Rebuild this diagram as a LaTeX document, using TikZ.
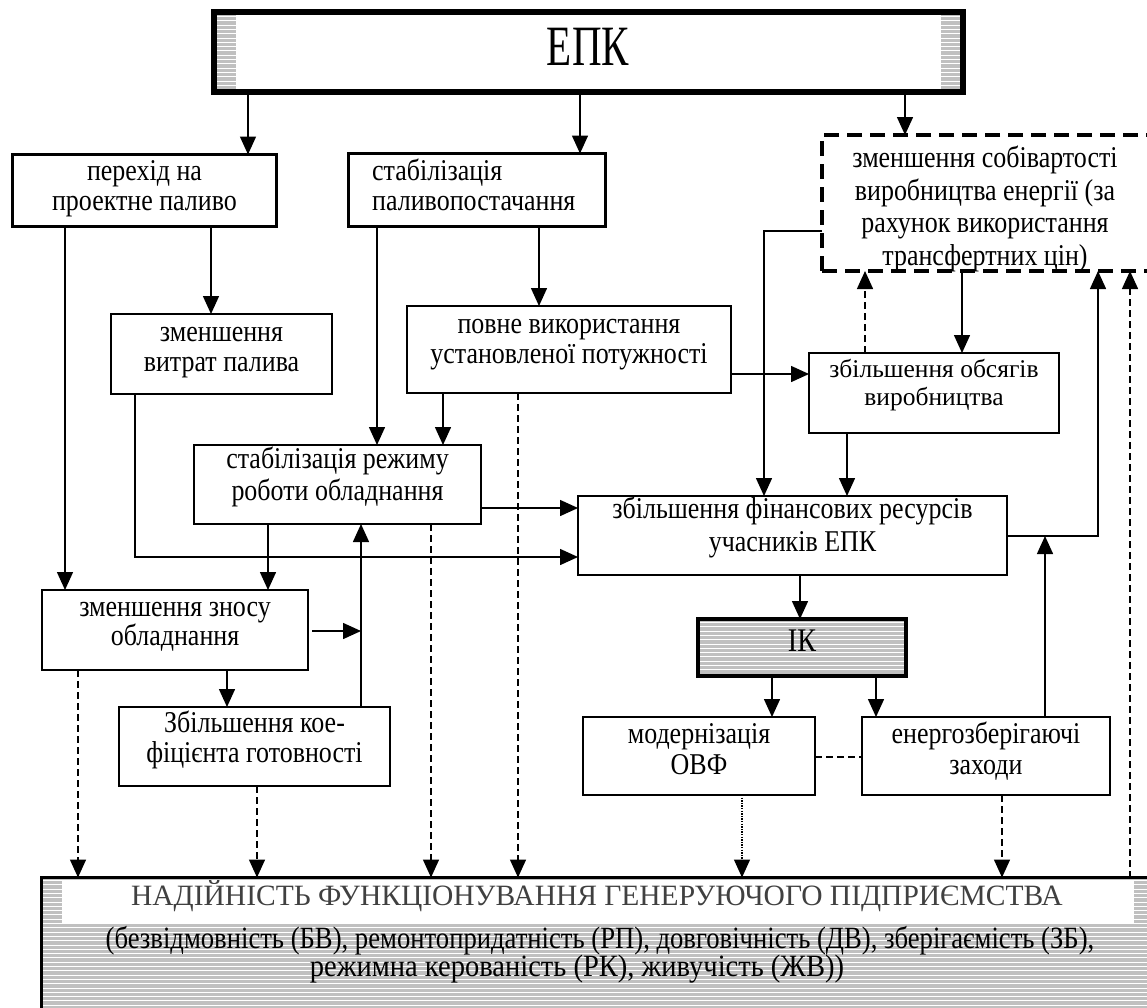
\documentclass[tikz,border=0pt]{standalone}
\usepackage{fontspec}
\setmainfont{Liberation Serif}[FakeStretch=0.86]
\newfontfamily\plainfont{Liberation Serif}
\usepackage{graphicx}
\usetikzlibrary{arrows.meta,calc}
\definecolor{hatchgray}{HTML}{C0C0C0}
\definecolor{titlegray}{HTML}{404040}
\newcommand\hatchbox[4]{%
  \begin{scope}
    \clip (#1,#2) rectangle (#3,#4);
    \fill[hatchgray] (#1,#2) rectangle (#3,#4);
    \foreach \i in {0,...,40}{\draw[white,line width=1pt] (#1,{#2+1.5+4.3*\i}) -- (#3,{#2+1.5+4.3*\i});}
  \end{scope}}
\newcommand\drbox[6][boxthin]{\node[#1, minimum width={#5-#3}, minimum height={#6-#4}] (#2) at ({(#3+#5)/2},{(#4+#6)/2}) {};}
\newcommand\fsz[2]{\fontsize{#1}{#2}\selectfont\lineskiplimit=-50pt\relax}
\tikzset{
  boxthin/.style={draw, line width=2pt, inner sep=0pt, outer sep=0pt},
  boxthick/.style={draw, line width=3pt, inner sep=0pt, outer sep=0pt},
  boxdash/.style={draw, line width=4pt, dash pattern=on 15pt off 8pt, inner sep=0pt, outer sep=0pt},
  boxik/.style={draw, line width=4pt, inner sep=0pt, outer sep=0pt},
  boxepk/.style={draw, line width=6pt, inner sep=0pt, outer sep=0pt},
  boxnad/.style={draw, line width=3.5pt, inner sep=0pt, outer sep=0pt},
  tx/.style={inner sep=0pt, align=center, font=\fsz{30.2}{30}},
  txs/.style={inner sep=0pt, font=\fsz{30.2}{30}},
  ln/.style={line width=1.5pt},
  arr/.style={-{Triangle[length=18pt,width=16pt]}},
  dsh/.style={line width=1.5pt, dash pattern=on 7pt off 4pt},
  dtt/.style={line width=1.3pt, dash pattern=on 1.3pt off 1.3pt},
}
\begin{document}
\begin{tikzpicture}[x=1pt,y=-1pt]
\useasboundingbox (0,0) rectangle (1147,1007);
\clip (0,0) rectangle (1147,1007);
\fill[white] (0,0) rectangle (1147,1007);

% hatched backgrounds
\hatchbox{217}{15}{236}{89}
\hatchbox{941}{15}{960}{89}
\hatchbox{700}{621}{904}{674}
\hatchbox{43}{879}{1150}{1010}
\fill[white] (62,880) rectangle (1134,923);

% boxes
\drbox[boxepk]{epk}{214}{12}{963}{92}
\drbox[boxthick]{perekhid}{12.5}{154.5}{276.5}{226.5}
\drbox[boxthick]{stabil}{348.5}{153.5}{605.5}{226.5}
\drbox[boxdash]{dashbox}{822}{135}{1165}{271}
\drbox{vytrat}{111}{314}{332}{394}
\drbox{povne}{407}{306}{731}{393}
\drbox{obsyagiv}{809}{353}{1059}{433}
\drbox{rezhym}{194}{445}{481}{524}
\drbox{finans}{578}{496}{1007}{575}
\drbox{znosu}{42}{590}{308}{670}
\drbox{koef}{119}{707}{390}{786}
\drbox[boxik]{ik}{698}{619}{906}{676}
\drbox{modern}{583}{717}{815}{795}
\drbox{energy}{862}{717}{1110}{795}
\drbox[boxnad]{nad}{41.5}{877.5}{1180}{1040}

% texts
\node[anchor=base, inner sep=0pt] (epkt) at (588,65) {\scalebox{0.72}[1]{\plainfont\fontsize{57}{60}\selectfont ЕПК}};
\node[tx, anchor=north] (perekhidt) at (144.5,159) {\strut перехід на\\проектне паливо};
\node[tx, anchor=north west, align=left] (stabilt) at (372,159) {\strut стабілізація\\паливопостачання};
\node[tx, anchor=north, font=\fsz{30.2}{32.5}] (dashboxt) at (985,145) {\strut зменшення собівартості\\виробництва енергії (за\\рахунок використання\\трансфертних цін)};
\node[tx, anchor=north] (vytratt) at (221.5,320) {\strut зменшення\\витрат палива};
\node[tx, anchor=north] (povnet) at (569,312) {\strut повне використання\\установленої потужності};
\node[tx, anchor=north, font=\plainfont\fsz{25.5}{28}] (obsyagivt) at (934,358) {\strut збільшення обсягів\\виробництва};
\node[tx, anchor=north, font=\fsz{30.2}{32}] (rezhymt) at (337.5,445.6) {\strut стабілізація режиму\\роботи обладнання};
\node[tx, anchor=north, font=\fsz{30.2}{33}] (finanst) at (792.5,495) {\strut збільшення фінансових ресурсів\\учасників ЕПК};
\node[tx, anchor=north, font=\fsz{30.2}{29}] (znosut) at (175,595.7) {\strut зменшення зносу\\обладнання};
\node[tx, anchor=north] (koeft) at (254.5,711) {\strut Збільшення кое-\\фіцієнта готовності};
\node[anchor=base, inner sep=0pt] (ikt) at (802,651) {\scalebox{0.85}[1]{\plainfont\fontsize{33}{36}\selectfont ІК}};
\node[tx, anchor=north, font=\fsz{30.2}{31}] (modernt) at (699,722) {\strut модернізація\\ОВФ};
\node[tx, anchor=north, font=\fsz{30.2}{31}] (energyt) at (986,722) {\strut енергозберігаючі\\заходи};
\node[anchor=base, inner sep=0pt, text=titlegray, font=\plainfont\fontsize{29.5}{30}\selectfont] (titlet) at (597,905) {НАДІЙНІСТЬ ФУНКЦІОНУВАННЯ ГЕНЕРУЮЧОГО ПІДПРИЄМСТВА};
\node[txs, anchor=base, font=\fsz{31}{30}] (sub1) at (600,948) {(безвідмовність (БВ), ремонтопридатність (РП), довговічність (ДВ), зберігаємість (ЗБ),};
\node[txs, anchor=base, font=\fsz{31}{30}] (sub2) at (577,976) {\scalebox{1.07}[1]{режимна керованість (РК), живучість (ЖВ))}};

% connectors
\draw[ln,arr] (248,0 |- epk.south) -- (248,0 |- perekhid.north);
\draw[ln,arr] (580,0 |- epk.south) -- (580,0 |- stabil.north);
\draw[ln,arr] (905,0 |- epk.south) -- (905,0 |- dashbox.north);
\draw[ln,arr] (65,0 |- perekhid.south) -- (65,0 |- znosu.north);
\draw[ln,arr] (211,0 |- perekhid.south) -- (211,0 |- vytrat.north);
\draw[ln,arr] (539,0 |- stabil.south) -- (539,0 |- povne.north);
\draw[ln,arr] (377,0 |- stabil.south) -- (377,0 |- rezhym.north);
\draw[ln,arr] (443,0 |- povne.south) -- (443,0 |- rezhym.north);
\draw[dsh,arr] (518,0 |- povne.south) -- (518,0 |- nad.north);
\draw[ln,arr] (povne.east |- 0,374) -- (obsyagiv.west |- 0,374);
\draw[ln,arr] (dashbox.west |- 0,231) -| (764,0 |- finans.north);
\draw[dsh,arr] (865,0 |- obsyagiv.north) -- (865,0 |- dashbox.south);
\draw[ln,arr] (962,0 |- dashbox.south) -- (962,0 |- obsyagiv.north);
\draw[ln,arr] (847,0 |- obsyagiv.south) -- (847,0 |- finans.north);
\draw[ln,arr] (rezhym.east |- 0,508) -- (finans.west |- 0,508);
\draw[ln,arr] (135,0 |- vytrat.south) |- (finans.west |- 0,557);
\draw[ln,arr] (268,0 |- rezhym.south) -- (268,0 |- znosu.north);
\draw[dsh,arr] (431,0 |- rezhym.south) -- (431,0 |- nad.north);
\draw[ln,arr] (361,0 |- koef.north) -- (361,0 |- rezhym.south);
\coordinate (kj) at (361,631);
\draw[ln,arr] ([xshift=4pt]znosu.east |- kj) -- (kj);
\draw[ln,arr] (227,0 |- znosu.south) -- (227,0 |- koef.north);
\draw[dsh,arr] (78,0 |- znosu.south) -- (78,0 |- nad.north);
\draw[dsh,arr] (257,0 |- koef.south) -- (257,0 |- nad.north);
\draw[ln,arr] (800,0 |- finans.south) -- (800,0 |- ik.north);
\draw[ln,arr] (finans.east |- 0,536) -| (1098,0 |- dashbox.south);
\coordinate (fj) at (1045,536);
\draw[ln,arr] (1045,0 |- energy.north) -- (fj);
\draw[ln,arr] (772,0 |- ik.south) -- (772,0 |- modern.north);
\draw[ln,arr] (876,0 |- ik.south) -- (876,0 |- energy.north);
\draw[dsh] (modern.east |- 0,757) -- (energy.west |- 0,757);
\draw[dtt,arr] (742,0 |- modern.south) -- (742,0 |- nad.north);
\draw[dsh,arr] (1002,0 |- energy.south) -- (1002,0 |- nad.north);
\draw[dsh,arr] (1130,0 |- nad.north) -- (1130,0 |- dashbox.south);
\end{tikzpicture}
\end{document}
